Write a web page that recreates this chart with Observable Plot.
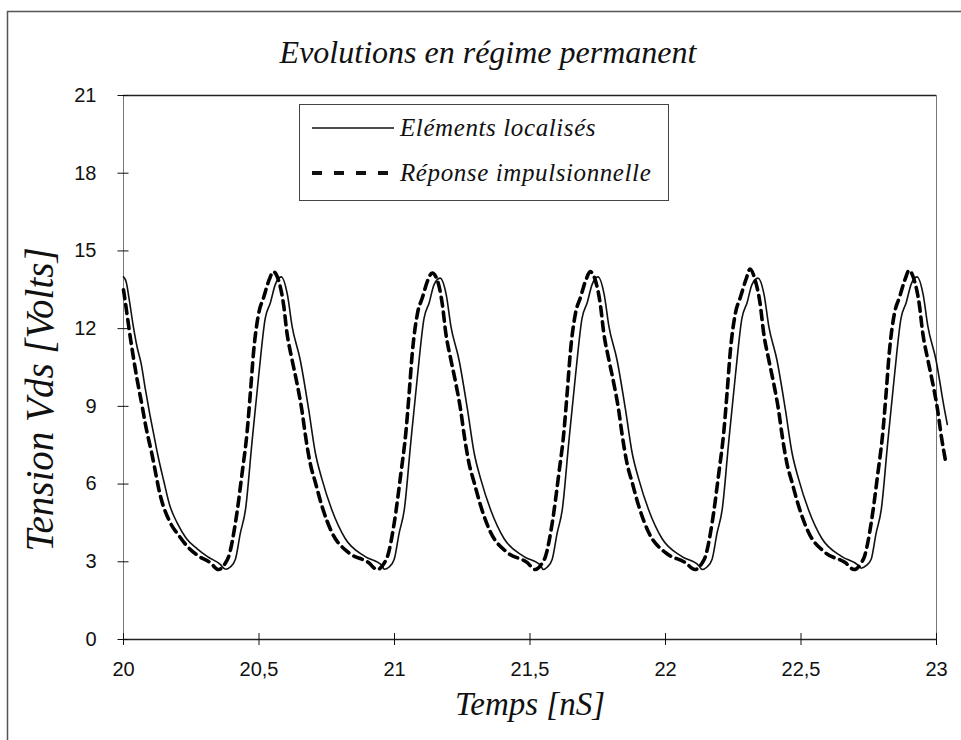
<!DOCTYPE html>
<html>
<head>
<meta charset="utf-8">
<script src="https://cdn.jsdelivr.net/npm/d3@7"></script>
<script src="https://cdn.jsdelivr.net/npm/@observablehq/plot@0.6"></script>
<style>
  body { margin: 0; background: #fff; }
  #chart { width: 961px; height: 740px; }
</style>
</head>
<body>
<div id="chart"></div>
<script>
// Vds(t) in steady state, time in nS, voltage in volts
const elementsLocalises = [
  [20.000,14.0],[20.010,13.8],[20.020,13.2],[20.036,12.1],[20.050,11.3],[20.066,10.6],[20.080,9.7],[20.097,8.7],
  [20.112,7.9],[20.125,7.2],[20.149,6.1],[20.170,5.2],[20.198,4.5],[20.232,3.9],[20.272,3.5],[20.310,3.2],
  [20.357,2.9],[20.376,2.71],
  [20.394,2.8],[20.413,3.1],[20.431,4.1],[20.450,5.0],[20.474,7.6],[20.499,10.2],[20.523,12.4],[20.542,13.0],
  [20.560,13.7],[20.582,14.0],[20.605,13.3],[20.622,12.1],[20.652,10.8],[20.683,8.9],[20.708,7.2],[20.732,6.2],
  [20.769,5.0],[20.818,3.9],[20.892,3.2],[20.954,2.85],[20.962,2.71],
  [20.980,2.8],[20.999,3.1],[21.017,4.1],[21.036,5.0],[21.060,7.6],[21.085,10.2],[21.109,12.4],[21.128,13.0],
  [21.146,13.7],[21.168,13.95],[21.191,13.3],[21.208,12.1],[21.238,10.8],[21.269,8.9],[21.294,7.2],[21.318,6.2],
  [21.355,5.0],[21.404,3.9],[21.478,3.2],[21.540,2.85],[21.548,2.7],
  [21.564,2.8],[21.582,3.1],[21.600,4.1],[21.619,5.0],[21.643,7.6],[21.668,10.2],[21.692,12.4],[21.711,13.0],
  [21.729,13.7],[21.751,14.0],[21.774,13.3],[21.791,12.1],[21.821,10.8],[21.852,8.9],[21.877,7.2],[21.901,6.2],
  [21.938,5.0],[21.987,3.9],[22.061,3.2],[22.123,2.85],[22.135,2.7],
  [22.153,2.8],[22.172,3.1],[22.190,4.1],[22.209,5.0],[22.233,7.6],[22.258,10.2],[22.282,12.4],[22.301,13.0],
  [22.319,13.7],[22.341,13.95],[22.364,13.3],[22.381,12.1],[22.411,10.8],[22.442,8.9],[22.467,7.2],[22.491,6.2],
  [22.528,5.0],[22.577,3.9],[22.651,3.2],[22.713,2.85],[22.722,2.75],
  [22.740,2.85],[22.759,3.1],[22.777,4.1],[22.796,5.0],[22.820,7.6],[22.845,10.2],[22.869,12.4],[22.888,13.0],
  [22.906,13.7],[22.928,14.0],[22.951,13.3],[22.968,12.1],[22.998,10.8],[23.029,8.9],[23.040,8.3]
];

const reponseImpulsionnelle = [
  [20.000,13.5],[20.007,13.0],[20.026,11.6],[20.050,10.05],[20.069,9.0],[20.081,8.3],[20.106,7.1],[20.136,5.55],
  [20.173,4.5],[20.205,4.0],[20.235,3.6],[20.280,3.2],[20.320,2.97],[20.350,2.7],
  [20.376,2.95],[20.388,3.2],[20.413,4.5],[20.438,6.45],[20.456,8.0],[20.468,9.5],[20.480,11.1],[20.499,12.6],
  [20.517,13.2],[20.538,13.9],[20.553,14.2],[20.571,13.9],[20.591,12.9],[20.603,11.85],[20.622,10.8],[20.640,9.9],
  [20.659,8.8],[20.671,7.9],[20.689,6.8],[20.708,6.06],[20.732,5.16],[20.769,4.13],[20.830,3.36],[20.904,2.97],
  [20.936,2.7],
  [20.962,2.95],[20.974,3.2],[20.999,4.5],[21.024,6.45],[21.042,8.0],[21.054,9.5],[21.066,11.1],[21.085,12.6],
  [21.103,13.2],[21.124,13.9],[21.139,14.15],[21.157,13.9],[21.177,12.9],[21.189,11.85],[21.208,10.8],[21.226,9.9],
  [21.245,8.8],[21.257,7.9],[21.275,6.8],[21.294,6.06],[21.318,5.16],[21.355,4.13],[21.416,3.36],[21.490,2.97],
  [21.519,2.7],
  [21.545,2.95],[21.557,3.2],[21.582,4.5],[21.607,6.45],[21.625,8.0],[21.637,9.5],[21.649,11.1],[21.668,12.6],
  [21.686,13.2],[21.707,13.9],[21.722,14.2],[21.740,13.9],[21.760,12.9],[21.772,11.85],[21.791,10.8],[21.809,9.9],
  [21.828,8.8],[21.840,7.9],[21.858,6.8],[21.877,6.06],[21.901,5.16],[21.938,4.13],[21.999,3.36],[22.073,2.97],
  [22.109,2.7],
  [22.135,2.95],[22.147,3.2],[22.172,4.5],[22.197,6.45],[22.215,8.0],[22.227,9.5],[22.239,11.1],[22.258,12.6],
  [22.276,13.2],[22.297,13.9],[22.312,14.3],[22.330,13.9],[22.350,12.9],[22.362,11.85],[22.381,10.8],[22.399,9.9],
  [22.418,8.8],[22.430,7.9],[22.448,6.8],[22.467,6.06],[22.491,5.16],[22.528,4.13],[22.589,3.36],[22.663,2.97],
  [22.696,2.7],
  [22.722,2.95],[22.734,3.2],[22.759,4.5],[22.784,6.45],[22.802,8.0],[22.814,9.5],[22.826,11.1],[22.845,12.6],
  [22.863,13.2],[22.884,13.9],[22.899,14.25],[22.917,13.9],[22.937,12.9],[22.949,11.85],[22.968,10.8],[22.986,9.9],
  [23.005,8.8],[23.017,7.9],[23.035,6.8]
];

const xTicks = [20, 20.5, 21, 21.5, 22, 22.5, 23];
const xTickLabels = ["20", "20,5", "21", "21,5", "22", "22,5", "23"];
const yTicks = [0, 3, 6, 9, 12, 15, 18, 21];
const seriesNames = ["Eléments localisés", "Réponse impulsionnelle"];
const titleText = "Evolutions en régime permanent";
const xLabel = "Temps [nS]";
const yLabel = "Tension Vds [Volts]";

const toRows = (pairs, serie) => pairs.map(([t, v]) => ({t, v, serie}));
const solidRows = toRows(elementsLocalises, seriesNames[0]);
const dashedRows = toRows(reponseImpulsionnelle, seriesNames[1]);

const serif = "'Liberation Serif', 'Times New Roman', serif";
const DASH = "9,6";

// Boxed legend in the upper part of the frame
function legendBox() {
  const g = d3.create("svg:g");
  g.append("rect")
    .attr("x", 299.5).attr("y", 104.5).attr("width", 369).attr("height", 96)
    .attr("fill", "#fff").attr("stroke", "#444").attr("stroke-width", 1);
  const rows = [
    {name: seriesNames[0], y: 128, dash: null, width: 1.6},
    {name: seriesNames[1], y: 173, dash: "10,12", width: 4}
  ];
  for (const r of rows) {
    g.append("line")
      .attr("x1", 312).attr("x2", 394).attr("y1", r.y).attr("y2", r.y)
      .attr("stroke", "#111").attr("stroke-width", r.width)
      .attr("stroke-dasharray", r.dash);
    g.append("text")
      .attr("x", 400).attr("y", r.y + 8)
      .attr("text-anchor", "start")
      .attr("font-family", serif).attr("font-style", "italic").attr("font-size", 25)
      .attr("letter-spacing", 0.6)
      .attr("fill", "#111")
      .text(r.name);
  }
  return g.node();
}

// Page border along the top and left edges
function pageBorder() {
  const g = d3.create("svg:g");
  g.append("path")
    .attr("d", "M7.5,740V11.5H961")
    .attr("fill", "none").attr("stroke", "#555").attr("stroke-width", 1.5);
  return g.node();
}

const chart = Plot.plot({
  width: 961,
  height: 740,
  marginLeft: 123,
  marginRight: 25,
  marginTop: 95,
  marginBottom: 101,
  x: {domain: [20, 23], label: null},
  y: {domain: [0, 21], label: null},
  style: {
    fontFamily: "'Liberation Sans', Arial, sans-serif",
    fontSize: "20px",
    color: "#111",
    background: "#fff",
    overflow: "visible"
  },
  marks: [
    pageBorder,
    Plot.frame({stroke: "#777", strokeWidth: 1}),
    Plot.ruleY([21], {stroke: "#222", strokeWidth: 1.4}),
    Plot.ruleY([0], {stroke: "#222", strokeWidth: 1.4}),
    // tick labels
    Plot.axisY({ticks: yTicks, tickSize: 0, tickPadding: 27, label: null, fontSize: 20}),
    Plot.axisX({ticks: xTicks, tickSize: 0, tickPadding: 22, label: null, fontSize: 20,
      tickFormat: d => xTickLabels[xTicks.indexOf(d)]}),
    // tick marks crossing the axis lines
    Plot.axisY({ticks: yTicks, tickSize: 11, dx: 5.5, label: null, tickFormat: () => ""}),
    Plot.axisX({ticks: xTicks, tickSize: 12, dy: -6, label: null, tickFormat: () => ""}),
    // series
    Plot.line(solidRows, {x: "t", y: "v", stroke: "#111", strokeWidth: 1.6, curve: "monotone-x"}),
    Plot.line(dashedRows, {x: "t", y: "v", stroke: "#000", strokeWidth: 3.6,
      strokeDasharray: DASH, curve: "monotone-x"}),
    legendBox,
    // title and axis titles
    Plot.text([titleText], {frameAnchor: "top", dx: -42, dy: -55, fontFamily: serif, fontStyle: "italic",
      fontSize: 32, fill: "#111"}),
    Plot.text([xLabel], {frameAnchor: "bottom", dy: 75, fontFamily: serif, fontStyle: "italic",
      fontSize: 33, fill: "#111"}),
    Plot.text([yLabel], {frameAnchor: "left", textAnchor: "middle", dx: -83, dy: 32, rotate: -90,
      fontFamily: serif, fontStyle: "italic", fontSize: 39, fill: "#111"})
  ]
});

document.getElementById("chart").append(chart);
</script>
</body>
</html>
